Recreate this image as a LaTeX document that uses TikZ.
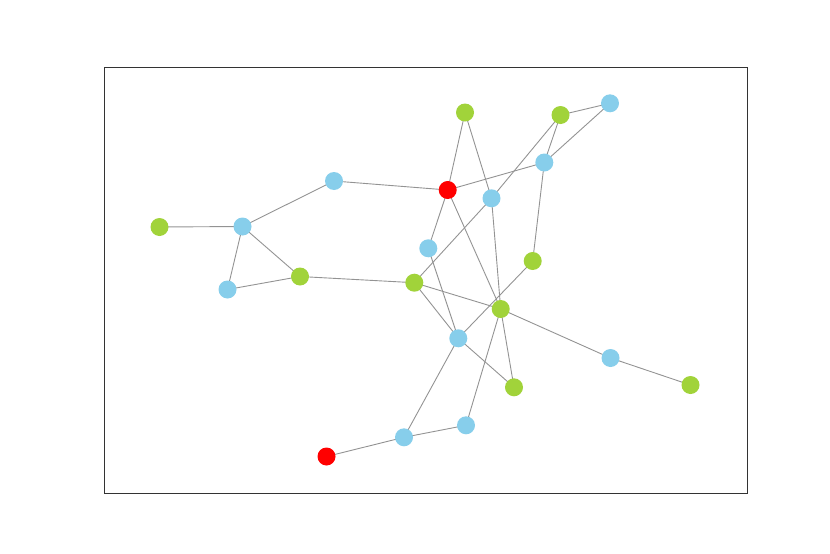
\documentclass[tikz,border=0pt]{standalone}
\begin{document}
\begin{tikzpicture}[x=1pt,y=-1pt]
\definecolor{nblue}{HTML}{87CEEB}
\definecolor{ngreen}{HTML}{A1D33A}
\definecolor{nred}{HTML}{FF0000}
\definecolor{egray}{HTML}{939393}
\tikzset{
  vb/.style={circle,fill=nblue,inner sep=0pt,minimum size=18pt},
  vg/.style={circle,fill=ngreen,inner sep=0pt,minimum size=18pt},
  vr/.style={circle,fill=nred,inner sep=0pt,minimum size=18pt},
  edge/.style={draw=egray,line width=0.9pt}
}
\useasboundingbox (0,0) rectangle (830,554);
\draw[line width=0.8pt,draw=black!80] (104,67) rectangle (747,493);
\coordinate (n1) at (465,112.5);
\coordinate (n2) at (560.5,115);
\coordinate (n3) at (610,103.3);
\coordinate (n4) at (544.3,162.5);
\coordinate (n5) at (447.7,190);
\coordinate (n6) at (491.5,198.3);
\coordinate (n7) at (334,181);
\coordinate (n8) at (159.5,227);
\coordinate (n9) at (242.5,226.5);
\coordinate (n10) at (428.3,248.3);
\coordinate (n11) at (532.7,261);
\coordinate (n12) at (227.5,289.5);
\coordinate (n13) at (300,276.5);
\coordinate (n14) at (414.3,282.7);
\coordinate (n15) at (500.7,309);
\coordinate (n16) at (458.3,338.3);
\coordinate (n17) at (610.5,358);
\coordinate (n18) at (690.5,385);
\coordinate (n19) at (514,387.3);
\coordinate (n20) at (466,425.3);
\coordinate (n21) at (404,437.3);
\coordinate (n22) at (326.5,456.5);
\foreach \a/\b in {n1/n5,n1/n6,n2/n3,n2/n6,n6/n14,n2/n4,n3/n4,n4/n5,n4/n11,n5/n7,n5/n10,n5/n15,n6/n15,n7/n9,n8/n9,n9/n12,n9/n13,n12/n13,n13/n14,n14/n15,n14/n16,n10/n16,n11/n16,n15/n17,n17/n18,n15/n19,n15/n20,n16/n19,n16/n21,n21/n20,n21/n22}
  \draw[edge] (\a) -- (\b);
\node[vg] (v1) at (n1) {};
\node[vg] (v2) at (n2) {};
\node[vb] (v3) at (n3) {};
\node[vb] (v4) at (n4) {};
\node[vr] (v5) at (n5) {};
\node[vb] (v6) at (n6) {};
\node[vb] (v7) at (n7) {};
\node[vg] (v8) at (n8) {};
\node[vb] (v9) at (n9) {};
\node[vb] (v10) at (n10) {};
\node[vg] (v11) at (n11) {};
\node[vb] (v12) at (n12) {};
\node[vg] (v13) at (n13) {};
\node[vg] (v14) at (n14) {};
\node[vg] (v15) at (n15) {};
\node[vb] (v16) at (n16) {};
\node[vb] (v17) at (n17) {};
\node[vg] (v18) at (n18) {};
\node[vg] (v19) at (n19) {};
\node[vb] (v20) at (n20) {};
\node[vb] (v21) at (n21) {};
\node[vr] (v22) at (n22) {};
\end{tikzpicture}
\end{document}
